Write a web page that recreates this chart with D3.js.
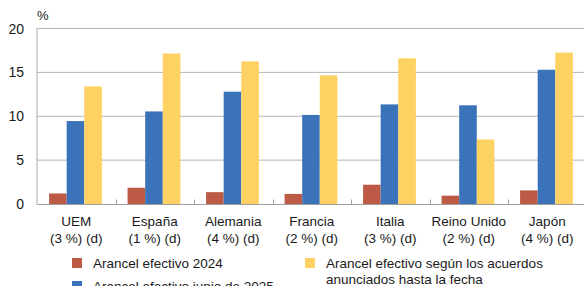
<!DOCTYPE html>
<html>
<head>
<meta charset="utf-8">
<script src="https://cdn.jsdelivr.net/npm/d3@7"></script>
<style>
  body { margin: 0; background: #fff; }
  text { font-family: "Liberation Sans", Arial, sans-serif; fill: #1a1a1a; }
</style>
</head>
<body>
<div id="chart"></div>
<script>
// Data
const categories = ["UEM", "España", "Alemania", "Francia", "Italia", "Reino Unido", "Japón"]
const subLabels = ["(3 %) (d)", "(1 %) (d)", "(4 %) (d)", "(2 %) (d)", "(3 %) (d)", "(2 %) (d)", "(4 %) (d)"]
const arancel2024 = [1.2, 1.85, 1.35, 1.15, 2.2, 0.95, 1.55]
const arancelJunio2025 = [9.45, 10.55, 12.8, 10.15, 11.35, 11.25, 15.3]
const arancelAcuerdos = [13.4, 17.15, 16.25, 14.65, 16.6, 7.35, 17.25]
const seriesNames = ["Arancel efectivo 2024", "Arancel efectivo junio de 2025", "Arancel efectivo según los acuerdos anunciados hasta la fecha"]
const colors = ["#bd5a45", "#3a73b9", "#fed163"]
const yTicks = [0, 5, 10, 15, 20]

const W = 584, H = 286
const margin = {top: 28.5, right: -2.5, bottom: 82, left: 37}
const width = W - margin.left - margin.right
const height = H - margin.top - margin.bottom
const fs = 13.5

const svg = d3.select("#chart").append("svg")
    .attr("width", W)
    .attr("height", H)

const g = svg.append("g")
    .attr("transform", "translate(" + margin.left + "," + margin.top + ")")

// Scales
const x = d3.scaleBand()
    .domain(categories)
    .range([0, width])
const x1 = d3.scaleBand()
    .domain([0, 1, 2])
    .range([0, x.bandwidth()])
    .paddingInner(0)
    .paddingOuter(0.73)
    .align(0.47)
const y = d3.scaleLinear()
    .domain([0, 20])
    .range([height, 0])

// Gridlines
g.append("g")
    .selectAll("line")
    .data(yTicks.filter(d => d > 0))
    .join("line")
    .attr("x1", 0)
    .attr("x2", width)
    .attr("y1", d => y(d))
    .attr("y2", d => y(d))
    .attr("stroke", "#b4b4b4")
    .attr("stroke-width", 1)

// Y labels
g.append("g")
    .selectAll("text")
    .data(yTicks)
    .join("text")
    .attr("x", -13)
    .attr("y", d => y(d))
    .attr("dy", "0.36em")
    .attr("text-anchor", "end")
    .attr("font-size", 14)
    .text(d => d)

svg.append("text")
    .attr("x", 37)
    .attr("y", 20)
    .attr("font-size", 13)
    .text("%")

// Left axis line
g.append("line")
    .attr("x1", 0).attr("x2", 0)
    .attr("y1", 0).attr("y2", height)
    .attr("stroke", "#a8a8a8")

// Bars
const series = [arancel2024, arancelJunio2025, arancelAcuerdos]
const groups = g.append("g")
    .selectAll("g")
    .data(categories)
    .join("g")
    .attr("transform", d => "translate(" + x(d) + ",0)")

groups.selectAll("rect")
    .data((d, i) => series.map((s, k) => ({k: k, v: s[i]})))
    .join("rect")
    .attr("x", d => x1(d.k))
    .attr("width", x1.bandwidth())
    .attr("y", d => y(d.v))
    .attr("height", d => y(0) - y(d.v))
    .attr("fill", d => colors[d.k])

// X axis: baseline plus inward ticks between categories
g.append("line")
    .attr("x1", 0).attr("x2", width)
    .attr("y1", height + 0.5).attr("y2", height + 0.5)
    .attr("stroke", "#a0a0a0")
    .attr("stroke-width", 1.2)

g.append("g")
    .selectAll("line")
    .data(categories.slice(1))
    .join("line")
    .attr("x1", d => Math.round(x(d)) + 0.5)
    .attr("x2", d => Math.round(x(d)) + 0.5)
    .attr("y1", height - 4.5)
    .attr("y2", height)
    .attr("stroke", "#a0a0a0")

// Category labels
const labels = g.append("g")
    .selectAll("text")
    .data(categories)
    .join("text")
    .attr("text-anchor", "middle")
    .attr("font-size", fs)
    .attr("transform", d => "translate(" + (x(d) + x.bandwidth() / 2) + "," + (height + 21.5) + ")")
labels.append("tspan").attr("x", 0).attr("y", 0).text(d => d)
labels.append("tspan").attr("x", 0).attr("y", 17).text((d, i) => subLabels[i])

// Legend
const legendItems = [
    {k: 0, x: 72, y: 258, lines: [seriesNames[0]]},
    {k: 1, x: 72, y: 281, lines: [seriesNames[1]]},
    {k: 2, x: 305, y: 258, lines: ["Arancel efectivo según los acuerdos", "anunciados hasta la fecha"]}
]
const leg = svg.append("g")
    .selectAll("g")
    .data(legendItems)
    .join("g")
    .attr("transform", d => "translate(" + d.x + "," + d.y + ")")
leg.append("rect")
    .attr("width", 10)
    .attr("height", 10)
    .attr("fill", d => colors[d.k])
leg.append("text")
    .attr("x", 21)
    .attr("y", 10)
    .attr("font-size", fs)
    .selectAll("tspan")
    .data(d => d.lines)
    .join("tspan")
    .attr("x", 21)
    .attr("dy", (d, i) => i === 0 ? 0 : 15.5)
    .text(d => d)
</script>
</body>
</html>
